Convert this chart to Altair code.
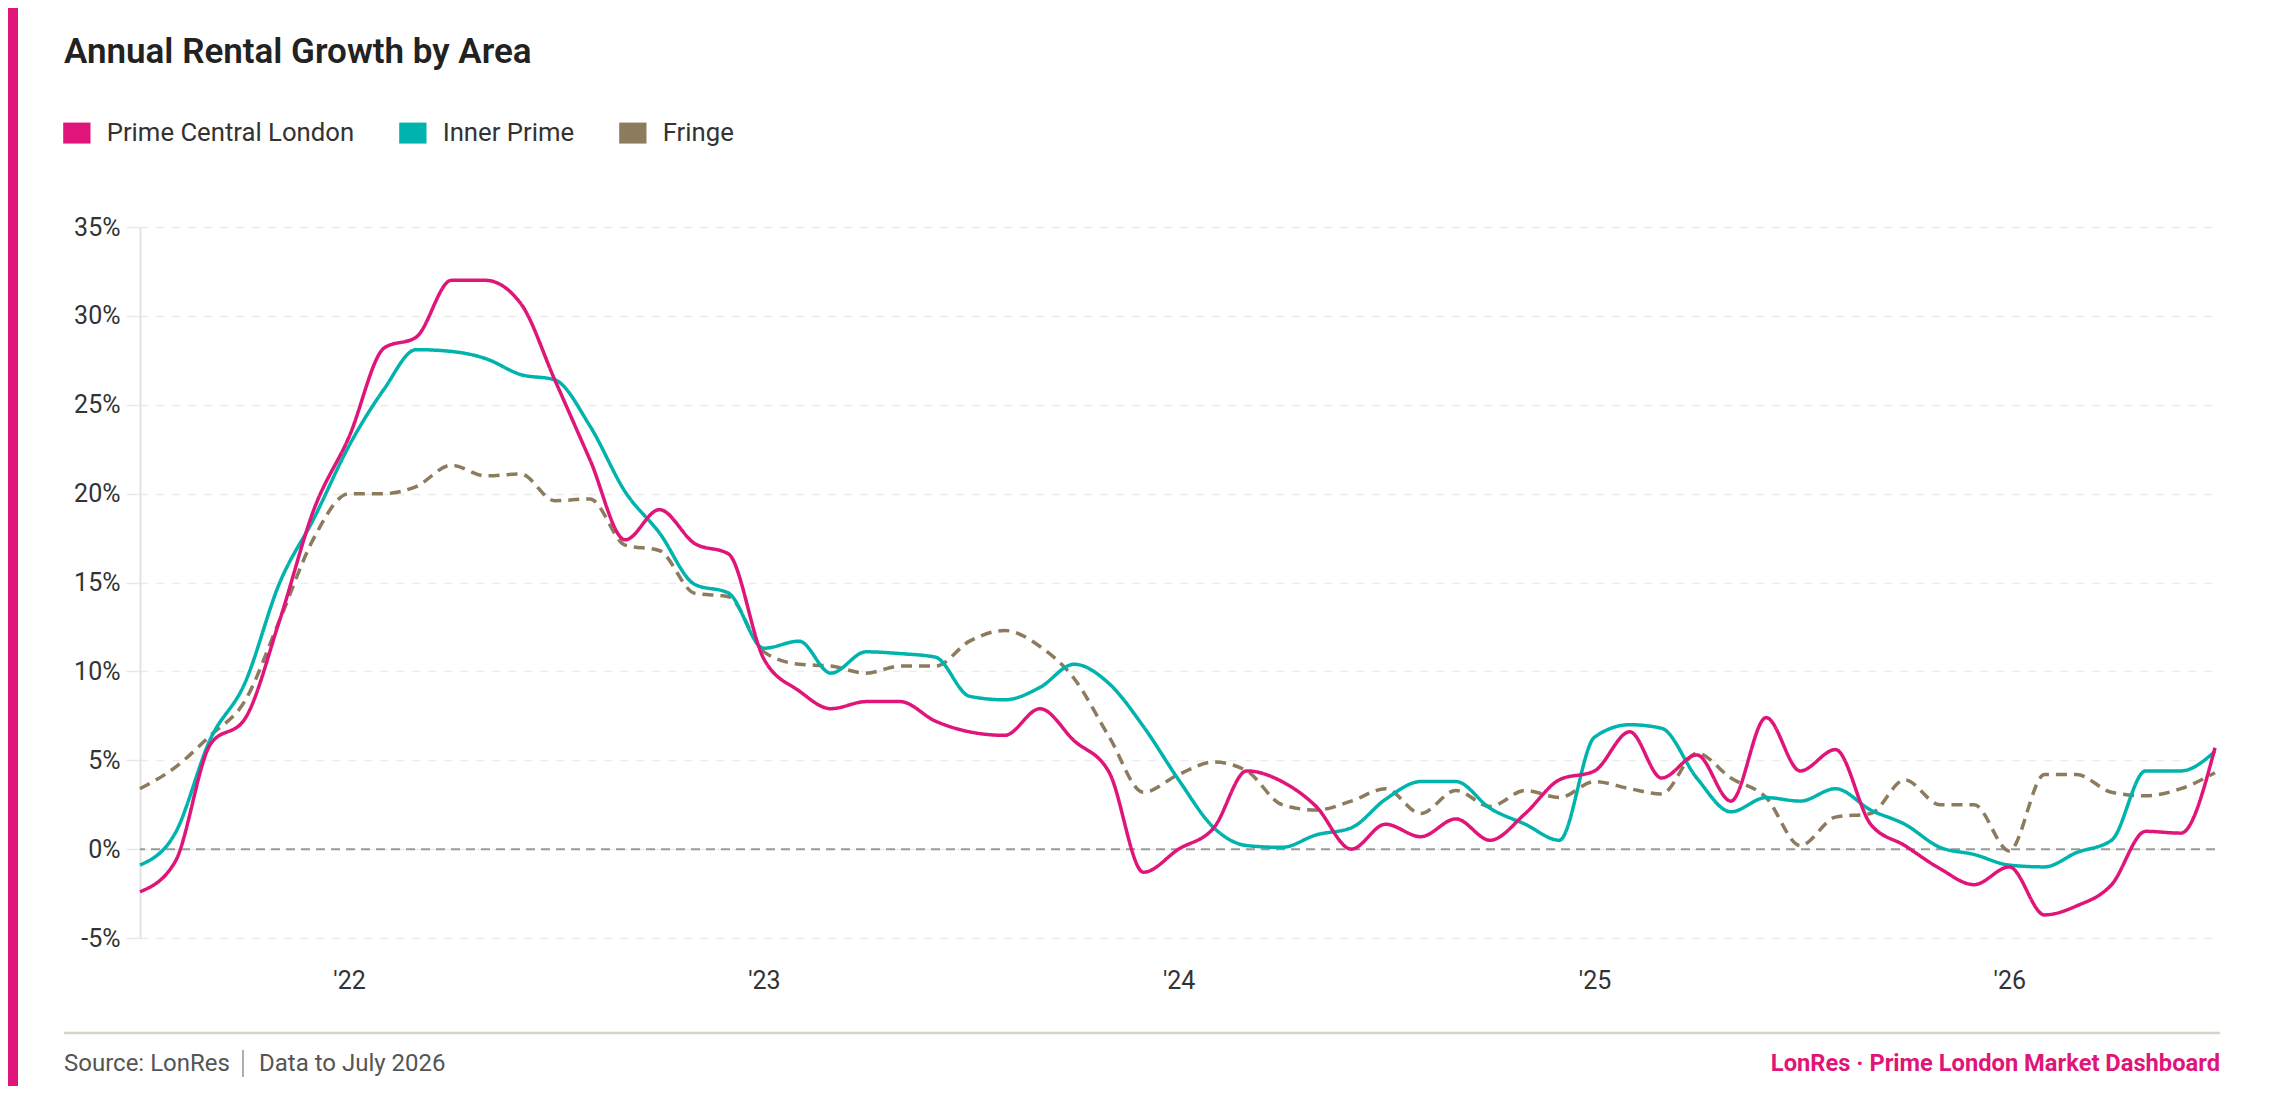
import altair as alt
import pandas as pd

# ---------------- data ----------------
months = pd.date_range("2021-07-01", "2026-07-01", freq="MS").strftime("%Y-%m-%d").tolist()

series_names = ["Prime Central London", "Inner Prime", "Fringe"]
series_colors = ["#E0157A", "#00B3AD", "#8C7B5D"]

pcl = [-2.4, -0.7, 5.9, 7.3, 12.9, 19.1, 23.2, 28.2, 28.8, 32.0, 32.0, 30.7,
       26.4, 21.9, 17.4, 19.1, 17.2, 16.6, 10.7, 8.9, 7.9, 8.3, 8.3, 7.2,
       6.6, 6.4, 7.9, 6.1, 4.3, -1.3, 0.0, 1.2, 4.4, 3.8, 2.4, 0.0,
       1.4, 0.7, 1.7, 0.5, 2.0, 3.9, 4.4, 6.6, 4.0, 5.3, 2.7, 7.4,
       4.4, 5.6, 1.4, 0.2, -1.1, -2.0, -1.0, -3.7, -3.2, -2.0, 1.0, 0.9,
       5.7]

inner = [-0.9, 0.9, 6.2, 9.3, 15.0, 18.6, 22.7, 25.9, 28.1, 28.0, 27.6, 26.7,
         26.4, 23.8, 20.1, 17.8, 14.9, 14.4, 11.3, 11.7, 9.9, 11.1, 11.0, 10.8,
         8.6, 8.4, 9.1, 10.4, 9.3, 6.9, 3.9, 1.2, 0.2, 0.1, 0.8, 1.2,
         2.8, 3.8, 3.8, 2.3, 1.4, 0.5, 6.3, 7.0, 6.8, 4.0, 2.1, 2.9,
         2.7, 3.4, 2.2, 1.4, 0.1, -0.3, -0.9, -1.0, -0.2, 0.5, 4.4, 4.4,
         5.5]

fringe = [3.4, 4.6, 6.4, 8.3, 12.9, 17.5, 20.0, 20.0, 20.4, 21.6, 21.0, 21.1,
          19.6, 19.7, 17.1, 16.8, 14.4, 14.2, 11.1, 10.4, 10.3, 9.9, 10.3, 10.3,
          11.7, 12.3, 11.4, 9.6, 6.3, 3.2, 4.2, 4.9, 4.4, 2.5, 2.2, 2.7,
          3.4, 2.0, 3.3, 2.4, 3.3, 2.9, 3.8, 3.4, 3.1, 5.4, 4.0, 2.9,
          0.2, 1.8, 2.0, 3.9, 2.5, 2.5, -0.1, 4.2, 4.2, 3.2, 3.0, 3.4,
          4.3]

y_ticks = [-5, 0, 5, 10, 15, 20, 25, 30, 35]
x_tick_years = [2022, 2023, 2024, 2025, 2026]

title_text = "Annual Rental Growth by Area"
footer_source = "Source: LonRes"
footer_data = "Data to July 2026"
footer_brand = "LonRes \u00b7 Prime London Market Dashboard"

# draw order: fringe underneath, PCL on top
rows = []
for name, vals in [("Fringe", fringe), ("Inner Prime", inner), ("Prime Central London", pcl)]:
    for d, v in zip(months, vals):
        rows.append({"date": d, "series": name, "value": v})
df = pd.DataFrame(rows)

FONT = "Roboto"
PLOT_W, PLOT_H = 2075, 711

x_enc = alt.X(
    "date:T", title=None,
    scale=alt.Scale(nice=False),
    axis=alt.Axis(
        values=[alt.DateTime(year=y, month=1, date=1) for y in x_tick_years],
        format="'%y", labelFont=FONT, labelFontSize=25, labelColor="#333333",
        labelPadding=30, domain=False, ticks=False, grid=False, labelAngle=0,
    ),
)
y_enc = alt.Y(
    "value:Q", title=None,
    scale=alt.Scale(domain=[-5, 35], nice=False, zero=False),
    axis=alt.Axis(
        values=y_ticks, labelExpr="datum.value + '%'",
        labelFont=FONT, labelFontSize=25, labelColor="#333333", labelPadding=6,
        tickSize=14, tickColor="#e8e8e8", tickWidth=1.5,
        domain=True, domainColor="#e3e3e3", domainWidth=2,
        grid=True, gridColor="#ebebeb", gridDash=[8, 8], gridWidth=1.5,
    ),
)

lines = alt.Chart(df).mark_line(interpolate="monotone", strokeWidth=3.5).encode(
    x=x_enc,
    y=y_enc,
    color=alt.Color("series:N", scale=alt.Scale(domain=series_names, range=series_colors), legend=None),
    strokeDash=alt.StrokeDash(
        "series:N",
        scale=alt.Scale(domain=series_names, range=[[1, 0], [1, 0], [11, 7]]),
        legend=None,
    ),
    detail="series:N",
)

# legend carrier: filled symbols, placed off-canvas so only the legend shows
legend_df = pd.DataFrame({"series": series_names})
legend_layer = alt.Chart(legend_df).mark_square(filled=True, opacity=1).encode(
    x=alt.value(-3000),
    y=alt.value(-3000),
    color=alt.Color(
        "series:N",
        scale=alt.Scale(domain=series_names, range=series_colors),
        legend=alt.Legend(
            title=None, orient="none", direction="horizontal",
            legendX=-76, legendY=-107, padding=0,
            symbolType="M-1.3,-1H1.3V1H-1.3Z", symbolSize=441, symbolStrokeWidth=0,
            symbolOpacity=1,
            labelFont=FONT, labelFontSize=25.7, labelColor="#333333",
            labelOffset=17, columnPadding=44, labelLimit=0,
        ),
    ),
)

zero_rule = alt.Chart(pd.DataFrame({"z": [0]})).mark_rule(
    color="#9a9a9a", strokeWidth=2, strokeDash=[9, 6]
).encode(y="z:Q")

stripe = alt.Chart(pd.DataFrame({"k": [1]})).mark_rect(color="#E0157A").encode(
    x=alt.value(-132), x2=alt.value(-122), y=alt.value(-219), y2=alt.value(PLOT_H + 150)
)

title = alt.Chart(pd.DataFrame({"t": [title_text]})).mark_text(
    align="left", baseline="alphabetic", font=FONT, fontSize=35, fontWeight=600, color="#222222"
).encode(x=alt.value(-76), y=alt.value(-164), text="t:N")

footer_rule = alt.Chart(pd.DataFrame({"k": [1]})).mark_rule(color="#d9d2c7", strokeWidth=2.5).encode(
    x=alt.value(-76), x2=alt.value(2080), y=alt.value(806)
)

sep_rule = alt.Chart(pd.DataFrame({"k": [1]})).mark_rule(color="#777777", strokeWidth=1.2).encode(
    x=alt.value(103), y=alt.value(823), y2=alt.value(850)
)

footer_left = alt.Chart(pd.DataFrame({"t": [footer_source]})).mark_text(
    align="left", baseline="middle", font=FONT, fontSize=24, color="#555555"
).encode(x=alt.value(-76), y=alt.value(837), text="t:N")

footer_mid = alt.Chart(pd.DataFrame({"t": [footer_data]})).mark_text(
    align="left", baseline="middle", font=FONT, fontSize=24, color="#555555"
).encode(x=alt.value(119), y=alt.value(837), text="t:N")

footer_right = alt.Chart(pd.DataFrame({"t": [footer_brand]})).mark_text(
    align="right", baseline="middle", font=FONT, fontSize=23.7, fontWeight="bold", color="#E0157A"
).encode(x=alt.value(2080), y=alt.value(837), text="t:N")

chart = alt.layer(
    stripe, title, footer_rule, sep_rule, footer_left, footer_mid, footer_right,
    zero_rule, lines, legend_layer,
).resolve_scale(
    color="independent", strokeDash="independent"
).resolve_legend(
    color="independent", strokeDash="independent"
).properties(
    width=PLOT_W,
    height=PLOT_H,
    padding={"left": 132, "top": 219, "right": 53, "bottom": 148},
    autosize=alt.AutoSizeParams(type="none"),
    background="white",
).configure_view(stroke=None)

chart.save("out.html", embed_options={"renderer": "svg", "actions": False})
